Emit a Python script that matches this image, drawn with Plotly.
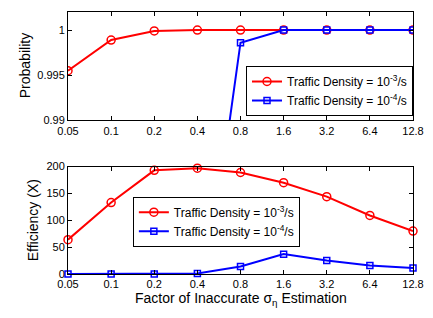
import numpy as np
import plotly.graph_objects as go
from plotly.subplots import make_subplots

factors = [0.05, 0.1, 0.2, 0.4, 0.8, 1.6, 3.2, 6.4, 12.8]
tick_labels = ["0.05", "0.1", "0.2", "0.4", "0.8", "1.6", "3.2", "6.4", "12.8"]

prob_d3 = [0.9955, 0.9989, 0.9999, 1.0, 1.0, 1.0, 1.0, 1.0, 1.0]
prob_d4 = [0.80, 0.86, 0.92, 0.9643, 0.9986, 1.0, 1.0, 1.0, 1.0]

eff_d3 = [64, 133, 193, 197, 189, 170, 144, 109, 80]
eff_d4 = [0, 0, 0, 1, 14, 37, 25, 16, 11]

name_d3 = "Traffic Density = 10<sup>-3</sup>/s"
name_d4 = "Traffic Density = 10<sup>-4</sup>/s"

RED = "#ff0000"
BLUE = "#0000ff"
FONT = "Liberation Sans, Arial, sans-serif"

fig = make_subplots(rows=2, cols=1, vertical_spacing=0.0)

fig.add_trace(go.Scatter(x=factors, y=prob_d3, mode="lines+markers", name=name_d3,
                         line=dict(color=RED, width=2),
                         marker=dict(symbol="circle-open", size=8, color=RED, line=dict(width=1.5)),
                         legend="legend", cliponaxis=True), row=1, col=1)
fig.add_trace(go.Scatter(x=factors, y=prob_d4, mode="lines+markers", name=name_d4,
                         line=dict(color=BLUE, width=2),
                         marker=dict(symbol="square-open", size=6, color=BLUE, line=dict(width=1.5)),
                         legend="legend", cliponaxis=True), row=1, col=1)
fig.add_trace(go.Scatter(x=factors, y=eff_d3, mode="lines+markers", name=name_d3,
                         line=dict(color=RED, width=2),
                         marker=dict(symbol="circle-open", size=8, color=RED, line=dict(width=1.5)),
                         legend="legend2", cliponaxis=False), row=2, col=1)
fig.add_trace(go.Scatter(x=factors, y=eff_d4, mode="lines+markers", name=name_d4,
                         line=dict(color=BLUE, width=2),
                         marker=dict(symbol="square-open", size=6, color=BLUE, line=dict(width=1.5)),
                         legend="legend2", cliponaxis=False), row=2, col=1)

xr = [np.log10(0.05), np.log10(12.8)]
axis_common = dict(showline=True, linecolor="black", linewidth=1, mirror="ticks",
                   ticks="inside", ticklen=4, tickcolor="black", showgrid=False,
                   zeroline=False, tickfont=dict(family=FONT, size=11, color="black"))

fig.update_xaxes(type="log", range=xr, tickvals=factors, ticktext=tick_labels, **axis_common)
fig.update_xaxes(domain=[0, 1])
fig.update_yaxes(axis_common)
fig.update_yaxes(range=[0.99, 1.002], tickvals=[0.99, 0.995, 1.0], ticktext=["0.99", "0.995", "1"],
                 domain=[0.586, 1.0], row=1, col=1)
fig.update_yaxes(range=[0, 200], tickvals=[0, 50, 100, 150, 200],
                 domain=[0.0, 0.41], row=2, col=1)

plot_w = 433 - 68 - 20
plot_h = 318 - 6 - 44

fig.update_layout(
    width=433, height=318,
    margin=dict(l=68, r=20, t=6, b=44),
    paper_bgcolor="white", plot_bgcolor="white",
    font=dict(family=FONT, size=12, color="black"),
    legend=dict(x=1, xanchor="right", y=0.603, yanchor="bottom",
                bordercolor="black", borderwidth=1, bgcolor="white",
                font=dict(family=FONT, size=12), tracegroupgap=0,
                itemwidth=30),
    legend2=dict(x=0.188, xanchor="left", y=0.295, yanchor="top",
                 bordercolor="black", borderwidth=1, bgcolor="white",
                 font=dict(family=FONT, size=12), tracegroupgap=0,
                 itemwidth=30),
    annotations=[
        dict(text="Probability", x=(25 - 68) / plot_w, y=(1 + 0.586) / 2,
             xref="paper", yref="paper", xanchor="center", yanchor="middle",
             showarrow=False, textangle=-90, font=dict(family=FONT, size=14)),
        dict(text="Efficiency (X)", x=(33 - 68) / plot_w, y=0.205,
             xref="paper", yref="paper", xanchor="center", yanchor="middle",
             showarrow=False, textangle=-90, font=dict(family=FONT, size=14)),
        dict(text="Factor of Inaccurate σ<sub>η</sub> Estimation", x=0.5,
             y=-(300 - 274) / plot_h, xref="paper", yref="paper", showarrow=False,
             xanchor="center", yanchor="middle",
             font=dict(family=FONT, size=14)),
    ],
)

fig.write_html("out.html", config={"displayModeBar": False},
               post_script="document.body.style.margin='0';")
